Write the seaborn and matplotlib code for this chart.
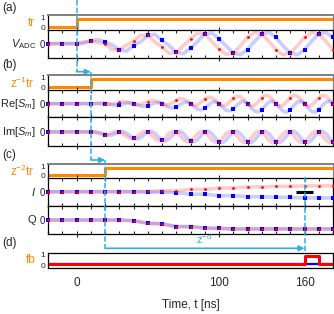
import numpy as np
import seaborn as sns
import matplotlib.pyplot as plt
from matplotlib import transforms
from matplotlib.lines import Line2D
from matplotlib.patches import FancyArrowPatch

sns.set_style('white')
plt.rcParams['font.family'] = ['Liberation Sans', 'DejaVu Sans']
plt.rcParams['mathtext.fontset'] = 'custom'
plt.rcParams['mathtext.rm'] = 'Liberation Sans'
plt.rcParams['mathtext.it'] = 'Liberation Sans:italic'
plt.rcParams['font.size'] = 8

# time grids [ns]
t_s = np.arange(-20, 181, 10)      # ADC samples
t_v = np.arange(-20, 181, 5)       # analog ADC trace
t_m = np.arange(-20, 180.1, 2.5)   # mixed traces

# trigger / feedback signals (per sample)
tr_a = [0, 0] + [1] * 19
tr_b = [0, 0, 0] + [1] * 18
tr_c = [0, 0, 0, 0] + [1] * 17
fb_red = [0] * 18 + [1, 0, 0]
fb_blue = [0] * 21

# (a) V_ADC samples
v_blue = [0, 0, 0, 0.3, 0.2, -0.7, -0.22, 0.92, 0.36, -1.0, -0.5, 1.1, 0.55,
          -1.07, -0.7, 1.1, 0.7, -1.07, -0.7, 1.1, 0.7]
v_red = [0, 0, 0, 0.3, 0.0, -0.7, 0.25, 0.92, -0.4, -1.0, 0.55, 1.1, -0.62,
         -1.07, 0.7, 1.1, -0.7, -1.07, 0.7, 1.1, -0.7]
# analog trace
vc_blue = [0, 0, 0, 0, 0, 0.04, 0.3, 0.47, 0.2, -0.14, -0.7, -0.85, -0.22, 0.2,
           0.92, 1.04, 0.36, -0.23, -1.0, -1.15, -0.5, 0.24, 1.1, 1.21, 0.55,
           -0.25, -1.07, -1.25, -0.7, 0.26, 1.1, 1.27, 0.7, -0.26, -1.07, -1.27,
           -0.7, 0.26, 1.1, 1.27, 0.7]
vc_red = [0, 0, 0, 0, 0, 0.18, 0.3, 0.1, 0.0, -0.69, -0.7, -0.17, 0.25, 0.96,
          0.92, 0.21, -0.4, -1.11, -1.0, -0.24, 0.55, 1.18, 1.1, 0.25, -0.62,
          -1.23, -1.07, -0.25, 0.7, 1.27, 1.1, 0.26, -0.7, -1.27, -1.07, -0.26,
          0.7, 1.27, 1.1, 0.26, -0.7]

# (b) Re[S_m], Im[S_m]
re_red = [0, 0, 0, 0, 0, 0.14, 0, 0.25, 0, 0.40, 0, 0.55, 0, 0.62, 0, 0.70,
          0, 0.71, 0, 0.71, 0]
re_blue = [0, 0, 0, 0, 0, -0.14, 0, -0.25, 0, -0.40, 0, -0.55, 0, -0.62, 0,
           -0.70, 0, -0.71, 0, -0.71, 0]
im_red = [0, 0, 0, 0, -0.31, 0, -0.7, 0, -0.92, 0, -1.0, 0, -1.09, 0, -1.09,
          0, -1.09, 0, -1.09, 0, -1.09]
im_blue = im_red
rec_red = [0] * 13 + [
    0.03, 0.05, 0.04, 0, -0.03, -0.03, 0.04, 0.14,
    0.22, 0.22, 0.13, 0, -0.08, -0.06, 0.08, 0.25,
    0.38, 0.36, 0.21, 0, -0.13, -0.10, 0.12, 0.40,
    0.58, 0.55, 0.31, 0, -0.19, -0.14, 0.17, 0.55,
    0.77, 0.71, 0.40, 0, -0.23, -0.16, 0.20, 0.62,
    0.88, 0.81, 0.45, 0, -0.27, -0.18, 0.23, 0.70,
    0.99, 0.90, 0.49, 0, -0.28, -0.19, 0.23, 0.71,
    0.99, 0.90, 0.49, 0, -0.28, -0.19, 0.23, 0.71,
    0.99, 0.90, 0.49, 0]
rec_blue = [0] * 13 + [
    -0.01, 0.01, 0.02, 0, -0.06, -0.14, -0.18, -0.14,
    -0.05, 0.05, 0.07, 0, -0.15, -0.29, -0.33, -0.25,
    -0.09, 0.08, 0.12, 0, -0.24, -0.46, -0.52, -0.40,
    -0.14, 0.12, 0.18, 0, -0.34, -0.65, -0.73, -0.55,
    -0.18, 0.15, 0.23, 0, -0.41, -0.77, -0.85, -0.62,
    -0.20, 0.17, 0.26, 0, -0.47, -0.86, -0.97, -0.70,
    -0.23, 0.19, 0.28, 0, -0.49, -0.90, -0.99, -0.71,
    -0.23, 0.19, 0.28, 0, -0.49, -0.90, -0.99, -0.71,
    -0.23, 0.19, 0.28, 0]
imc_red = [0] * 13 + [
    -0.03, -0.13, -0.25, -0.31, -0.22, -0.07, 0.04, 0,
    -0.21, -0.50, -0.71, -0.70, -0.46, -0.13, 0.06, 0,
    -0.32, -0.72, -0.97, -0.92, -0.58, -0.16, 0.08, 0,
    -0.36, -0.81, -1.07, -1.00, -0.63, -0.18, 0.09, 0,
    -0.40, -0.88, -1.17, -1.09, -0.68, -0.19, 0.09, 0,
    -0.41, -0.90, -1.18, -1.09, -0.68, -0.19, 0.09, 0,
    -0.41, -0.90, -1.18, -1.09, -0.68, -0.19, 0.09, 0,
    -0.41, -0.90, -1.18, -1.09, -0.68, -0.19, 0.09, 0,
    -0.41, -0.90, -1.18, -1.09]
imc_blue = [0] * 13 + [
    0.01, -0.03, -0.14, -0.31, -0.39, -0.34, -0.18, 0,
    0.05, -0.11, -0.41, -0.70, -0.79, -0.63, -0.30, 0,
    0.07, -0.15, -0.56, -0.92, -1.00, -0.77, -0.36, 0,
    0.08, -0.17, -0.62, -1.00, -1.10, -0.85, -0.39, 0,
    0.09, -0.19, -0.67, -1.09, -1.18, -0.90, -0.41, 0,
    0.09, -0.19, -0.68, -1.09, -1.18, -0.90, -0.41, 0,
    0.09, -0.19, -0.68, -1.09, -1.18, -0.90, -0.41, 0,
    0.09, -0.19, -0.68, -1.09, -1.18, -0.90, -0.41, 0,
    0.09, -0.19, -0.68, -1.09]

# (c) I, Q
i_red = [0, 0, 0, 0, 0, 0, 0.0, 0.04, 0.11, 0.11, 0.26, 0.26, 0.42, 0.44,
         0.53, 0.55, 0.60, 0.62, 0.66, 0.66, 0.70]
i_blue = [0, 0, 0, 0, 0, 0, 0.0, -0.05, -0.07, -0.10, -0.30, -0.28, -0.45,
          -0.45, -0.57, -0.57, -0.63, -0.66, -0.71, -0.71, -0.71]
q_red = [0, 0, 0, 0, 0, 0, -0.08, -0.37, -0.43, -0.74, -0.74, -0.90, -0.94,
         -1.0, -1.0, -1.0, -1.0, -1.0, -1.0, -1.0, -1.0]
q_blue = q_red
thr_t = [154, 166]   # threshold marker on I

ORANGE = '#ff8a00'
CYAN = '#2eaee6'
W, H = 334, 314

fig = plt.figure(figsize=(W / 100, H / 100), dpi=100)


def add_ax(top, bottom):
    return fig.add_axes([48 / W, 1 - bottom / H, 285 / W, (bottom - top) / H])


def style_signal(ax, label):
    ax.set_xlim(-20, 180)
    ax.set_ylim(-1.6, 1.6)
    ax.set_xticks([0, 100])
    ax.set_xticks(t_s, minor=True)
    ax.tick_params(axis='x', which='major', direction='inout', length=5,
                   width=0.8, top=True, bottom=True, labelbottom=False)
    ax.tick_params(axis='x', which='minor', direction='in', length=2.5,
                   width=0.8, top=True, bottom=True)
    ax.set_yticks([0])
    ax.set_yticklabels(['0'])
    ax.tick_params(axis='y', direction='in', length=2, labelsize=7, pad=2)
    for s in ax.spines.values():
        s.set_color('black')
        s.set_linewidth(0.9)
    ax.set_xlabel('')
    ax.set_ylabel('')
    ax.text(-0.042, 0, label, transform=ax.get_yaxis_transform(),
            ha='right', va='center', fontsize=8)


def small_01(ax):
    # compact 0/1 tick labels for the short trigger panels
    ax.set_yticks([0, 1])
    ax.set_yticklabels(['0', '1'])
    ax.tick_params(axis='y', direction='in', length=2, labelsize=6, pad=2)
    for lab, dy in zip(ax.get_yticklabels(), [-0.6, 1.0]):
        lab.set_transform(lab.get_transform() + transforms.ScaledTranslation(
            0, dy / 72, fig.dpi_scale_trans))


def style_trig(ax, label, ylim):
    ax.set_xlim(-20, 180)
    ax.set_ylim(*ylim)
    ax.set_xticks([])
    small_01(ax)
    ax.spines['bottom'].set_visible(False)
    ax.spines['left'].set_color('black')
    ax.spines['left'].set_linewidth(0.9)
    ax.spines['top'].set_color('#808080')
    ax.spines['top'].set_linewidth(1.4)
    ax.spines['right'].set_color('#808080')
    ax.spines['right'].set_linewidth(0.9)
    ax.set_xlabel('')
    ax.set_ylabel('')
    ax.text(-0.045, 0.5, label, transform=ax.get_yaxis_transform(),
            ha='right', va='center', fontsize=8.5, color=ORANGE)


def draw_signal(ax, tc, cr, cb, mr, mb):
    sns.lineplot(x=tc, y=cr, ax=ax, color='red', alpha=0.2, lw=2.6)
    sns.lineplot(x=tc, y=cb, ax=ax, color='blue', alpha=0.2, lw=2.6)
    sns.scatterplot(x=t_s, y=mb, ax=ax, color='#0000ff', marker='s', s=9,
                    linewidth=0, clip_on=False, zorder=3)
    sns.scatterplot(x=t_s, y=mr, ax=ax, color='#ff0000', marker='o', s=4,
                    linewidth=0, clip_on=False, zorder=4)


def draw_trig(ax, vals):
    sns.lineplot(x=t_s, y=vals, ax=ax, color=ORANGE, lw=2.2,
                 drawstyle='steps-post')


# (a)
ax_tra = add_ax(15, 29.5)
draw_trig(ax_tra, tr_a)
style_trig(ax_tra, 'tr', (-0.38, 1.58))
ax_v = add_ax(29.5, 57.7)
draw_signal(ax_v, t_v, vc_red, vc_blue, v_red, v_blue)
style_signal(ax_v, r'$V_{\rm ADC}$')

# (b)
ax_trb = add_ax(75, 90)
draw_trig(ax_trb, tr_b)
style_trig(ax_trb, r'z$^{-1}$tr', (-0.45, 1.58))
ax_re = add_ax(90, 117.3)
draw_signal(ax_re, t_m, rec_red, rec_blue, re_red, re_blue)
style_signal(ax_re, r'Re[$S_m$]')
ax_im = add_ax(117.3, 146.5)
draw_signal(ax_im, t_m, imc_red, imc_blue, im_red, im_blue)
style_signal(ax_im, r'Im[$S_m$]')

# (c)
ax_trc = add_ax(164, 177.7)
draw_trig(ax_trc, tr_c)
style_trig(ax_trc, r'z$^{-2}$tr', (-0.4, 1.64))
ax_i = add_ax(177.7, 205.7)
draw_signal(ax_i, t_s, i_red, i_blue, i_red, i_blue)
ax_i.hlines(0, thr_t[0], thr_t[1], color='black', lw=2.2, zorder=5)
style_signal(ax_i, r'$I$')
ax_q = add_ax(205.7, 234.3)
draw_signal(ax_q, t_s, q_red, q_blue, q_red, q_blue)
style_signal(ax_q, 'Q')

# (d)
ax_fb = add_ax(253, 268)
sns.lineplot(x=t_s, y=fb_blue, ax=ax_fb, color='#0000ff', lw=1.6,
             drawstyle='steps-post')
sns.lineplot(x=t_s, y=fb_red, ax=ax_fb, color='#ff0000', lw=2.2,
             drawstyle='steps-post')
ax_fb.set_xlim(-20, 180)
ax_fb.set_ylim(-0.45, 1.36)
small_01(ax_fb)
ax_fb.set_xticks([0, 100, 160])
ax_fb.set_xticks(t_s, minor=True)
ax_fb.tick_params(axis='x', which='major', direction='inout', length=5,
                  width=0.8, labelsize=8.5, pad=4)
ax_fb.tick_params(axis='x', which='minor', direction='inout', length=3.5,
                  width=0.8)
for s in ax_fb.spines.values():
    s.set_color('black')
    s.set_linewidth(0.9)
ax_fb.set_ylabel('')
ax_fb.set_xlabel('Time, t [ns]', fontsize=8.5, labelpad=7)
ax_fb.text(-0.045, 0.5, 'fb', transform=ax_fb.get_yaxis_transform(),
           ha='right', va='center', fontsize=8.5, color=ORANGE)

# panel letters
for y, lab in [(8, '(a)'), (65, '(b)'), (155, '(c)'), (243, '(d)')]:
    fig.text(2 / W, 1 - y / H, lab, va='center', ha='left', fontsize=8.5)

# trigger propagation connectors
t0 = t_s[int(np.argmax(tr_a))]
t1 = t_s[int(np.argmax(tr_b))]
t2 = t_s[int(np.argmax(tr_c))]
tfb = t_s[int(np.argmax(fb_red))]
trans = transforms.blended_transform_factory(ax_v.transData, fig.transFigure)


def fy(py):
    return 1 - py / H


def vdash(x, y0, y1):
    fig.add_artist(Line2D([x, x], [fy(y0), fy(y1)], transform=trans,
                          color=CYAN, lw=1.1, ls=(0, (3.5, 1.5))))


def harrow(x0, x1, y):
    fig.add_artist(FancyArrowPatch((x0, fy(y)), (x1, fy(y)), transform=trans,
                                   arrowstyle='-|>', mutation_scale=8,
                                   color=CYAN, lw=1.2, shrinkA=0, shrinkB=0))


vdash(t0, 0, 71.7)
harrow(t0, t1, 71.7)
vdash(t1, 71.7, 160)
harrow(t1, t2, 160)
vdash(t2, 160, 248.3)
harrow(t2, tfb, 248.3)
vdash(tfb, 177, 253)
fig.add_artist(plt.Text((t2 + tfb) / 2, fy(246), r'z$^{-d}$', transform=trans,
                        color=CYAN, fontsize=8, ha='center', va='bottom'))

fig.savefig('out.png', dpi=100)
